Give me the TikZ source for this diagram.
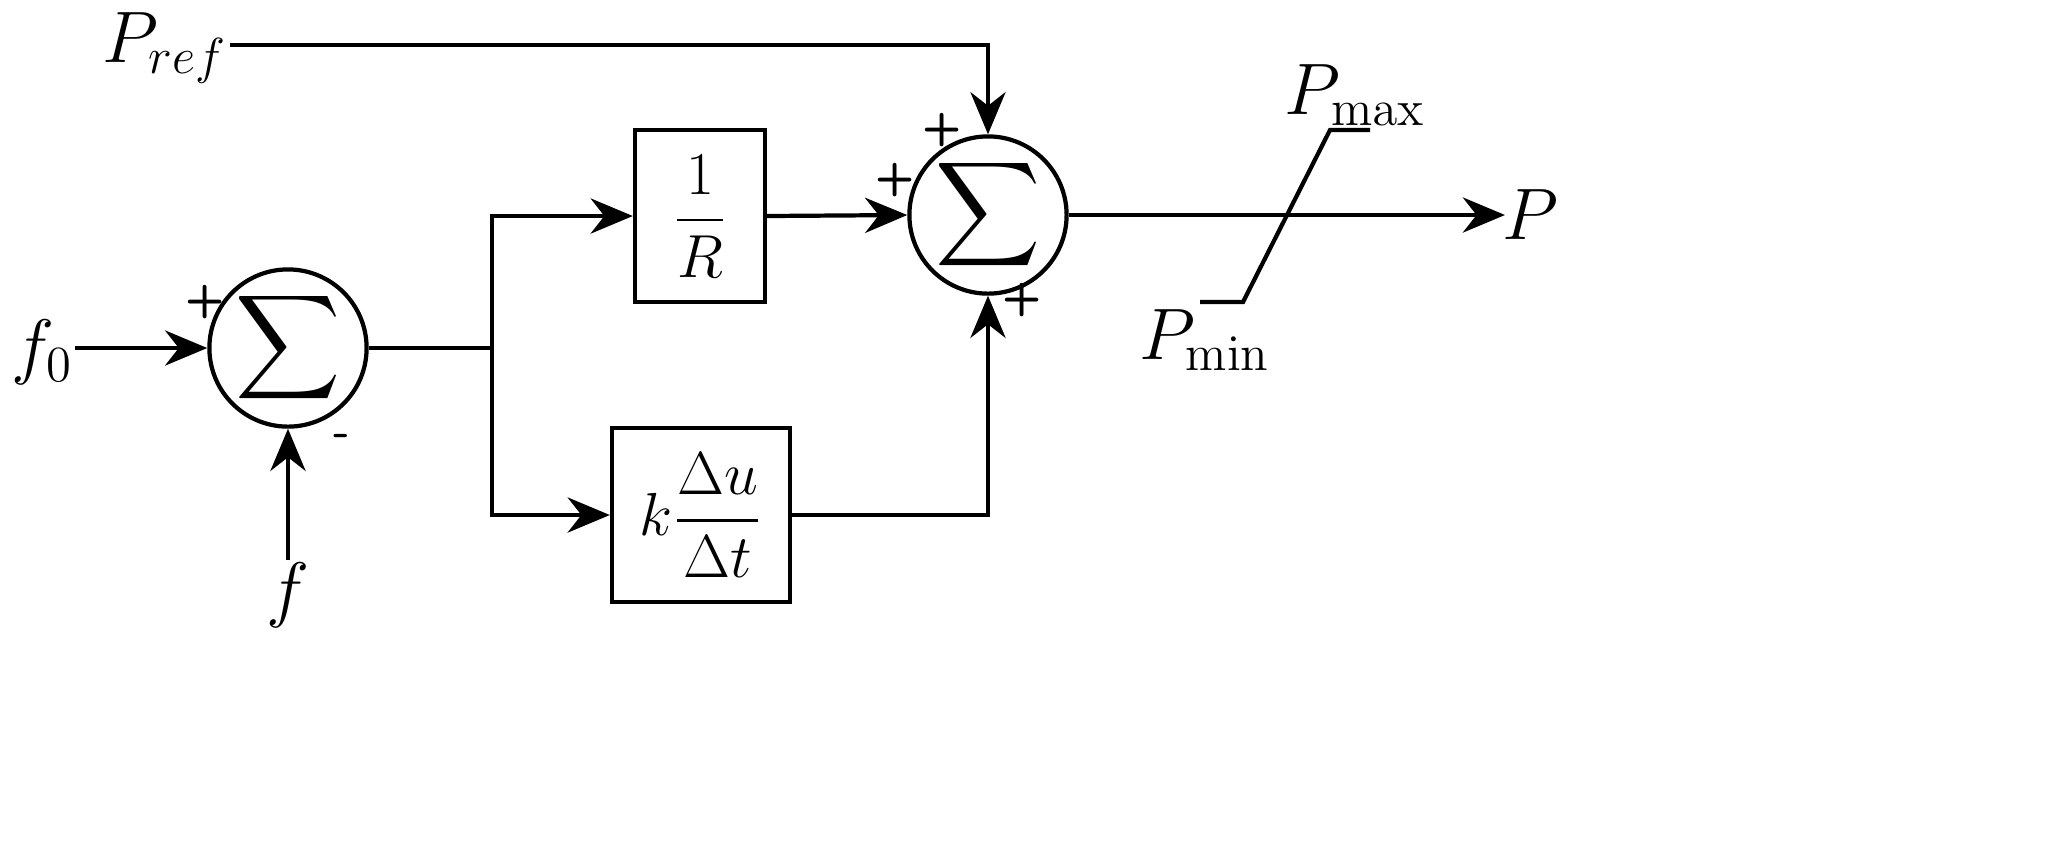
\documentclass[tikz,border=0pt]{standalone}
\usepackage{amsmath}
\usetikzlibrary{arrows.meta}
\begin{document}
\begin{tikzpicture}[x=0.01cm,y=-0.01cm,line width=1.2pt,
  >={Stealth[length=12pt,width=10pt]},
  sum/.style={circle,draw,minimum size=1.34cm,inner sep=0pt,font=\fontsize{22}{26}\selectfont},
  blk/.style={draw,inner sep=0pt,font=\fontsize{17}{20}\selectfont},
  lbl/.style={font=\fontsize{20}{24}\selectfont},
  sgn/.style={font=\sffamily\bfseries\fontsize{13}{15}\selectfont}]
\useasboundingbox (0,0) rectangle (2066,853);
\node[sum] (s1) at (288,348) {$\displaystyle\sum$};
\node[sum] (s2) at (988,215) {$\displaystyle\sum$};
\node[blk,minimum width=1.3cm,minimum height=1.72cm] (b1) at (700,216) {$\dfrac{1}{R}$};
\node[blk,minimum width=1.78cm,minimum height=1.74cm] (b2) at (701,515) {$k\dfrac{\Delta u}{\Delta t}$};
\node[lbl] (f0) at (42,352) {$f_0$};
\node[lbl] (f) at (288,595) {$f$};
\node[lbl] (pref) at (165,48) {$P_{ref}$};
\node[lbl] (P) at (1530,215) {$P$};
\node[lbl] at (1355,95) {$P_{\max}$};
\node[lbl] at (1205,340) {$P_{\min}$};
\coordinate (br) at (492,348);
\coordinate (pe) at (1505,215);
\coordinate (pr) at (230,45);
\coordinate (fs) at (288,560);
\coordinate (fz) at (75,348);
\draw[->] (fz) -- (s1.west);
\draw[->] (fs) -- (s1.south);
\draw (s1.east) -- (br);
\draw[->] (br) |- (b1.west);
\draw[->] (br) |- (b2.west);
\draw[->] (b1.east) -- (s2.west);
\draw[->] (b2.east) -| (s2.south);
\draw[->] (pr) -| (s2.north);
\draw[->] (s2.east) -- (pe);
\draw (1200,302) -- (1243,302) -- (1330,130) -- (1370,130);
\node[sgn] at (205,302) {+};
\node[sgn] at (342,440) {-};
\node[sgn] at (895,180) {+};
\node[sgn] at (942,130) {+};
\node[sgn] at (1022,300) {+};
\end{tikzpicture}
\end{document}
